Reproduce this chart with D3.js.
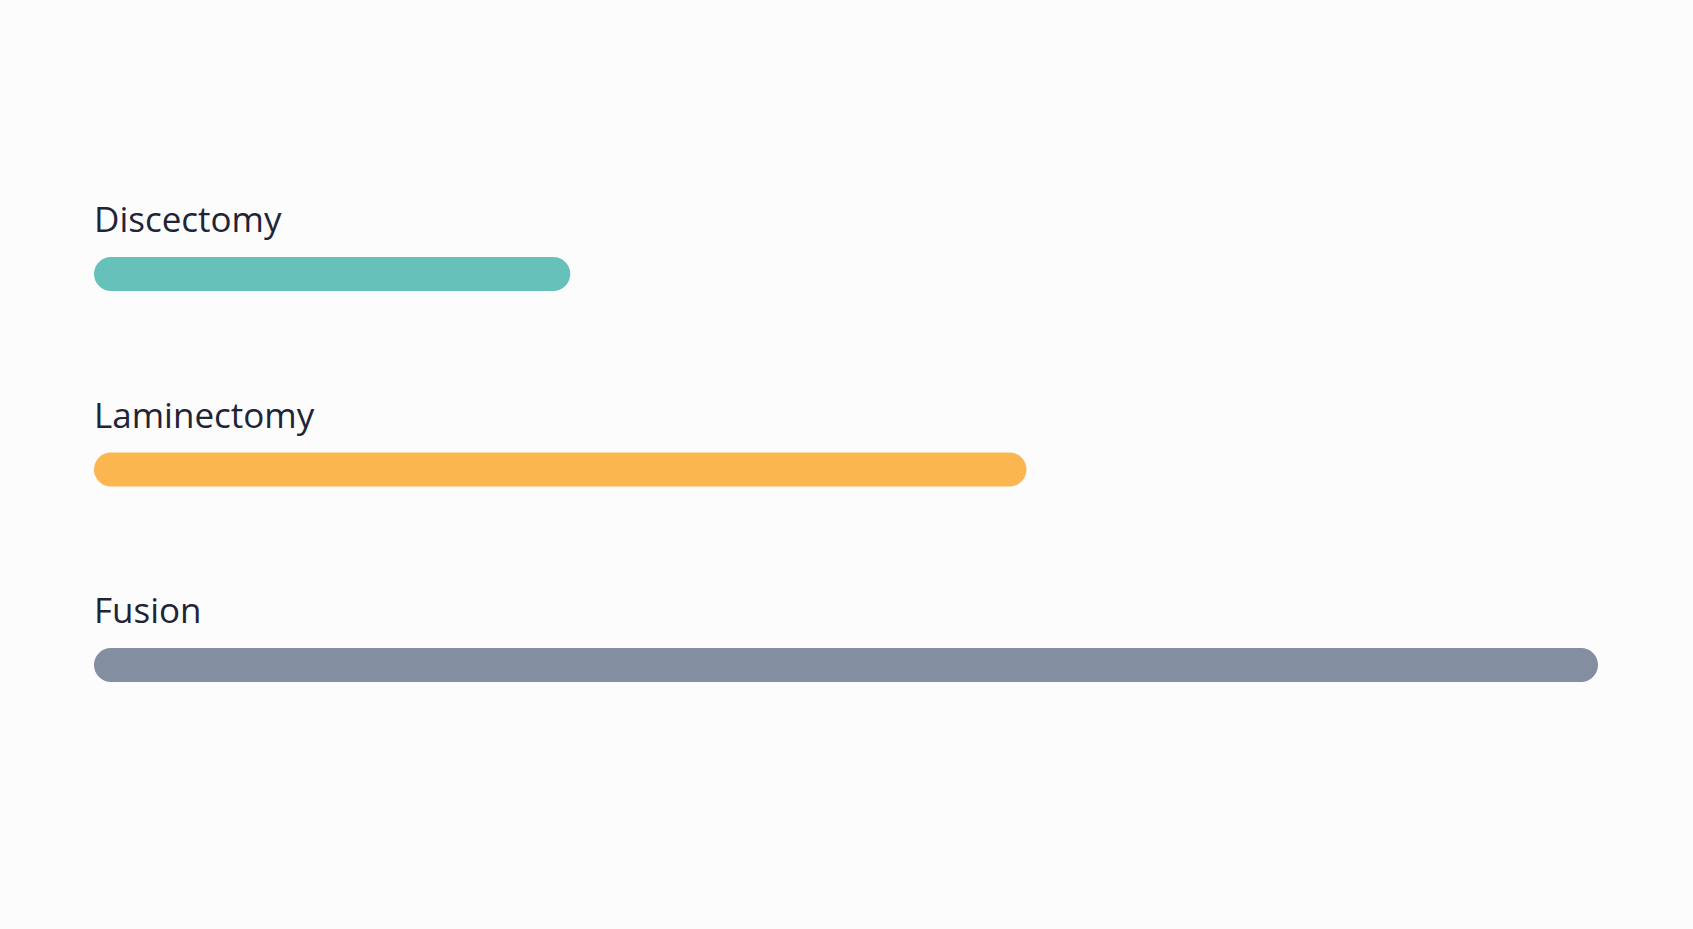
<!DOCTYPE html>
<html>
<head>
<meta charset="utf-8">
<script src="https://cdn.jsdelivr.net/npm/d3@7"></script>
<style>
    html, body { margin: 0; padding: 0; background: #fcfcfc; }
    svg { display: block; }
    .label { font-family: "Open Sans", sans-serif; font-size: 35px; fill: #1f2437; }
</style>
</head>
<body>
<svg id="chart"></svg>
<script>
// procedures and their values
var categories = ["Discectomy", "Laminectomy", "Fusion"];
var values = [1.9, 3.72, 6.0];
var colors = ["#67c1bb", "#fcb64f", "#838ea1"];

var w = 1693, h = 929;
var margin = { top: 176, right: 95, bottom: 150, left: 94 };

var svg = d3.select("#chart")
    .attr("width", w)
    .attr("height", h);

var x = d3.scaleLinear()
    .domain([0, d3.max(values)])
    .range([margin.left, w - margin.right]);

// each band holds label on top and bar below
var y = d3.scaleBand()
    .domain(categories)
    .range([margin.top, margin.top + 3 * 195.5])
    .paddingInner(0);

var bar_h = 34;

var rows = svg.selectAll("g.row")
    .data(categories)
    .enter()
    .append("g")
    .attr("class", "row")
    .attr("transform", function (d) { return "translate(0," + y(d) + ")"; });

rows.append("text")
    .attr("class", "label")
    .attr("x", margin.left)
    .attr("y", 56)
    .text(function (d) { return d; });

rows.append("rect")
    .attr("x", x(0))
    .attr("y", 81)
    .attr("height", bar_h)
    .attr("rx", 17)
    .attr("ry", 17)
    .attr("width", function (d, i) { return x(values[i]) - x(0); })
    .attr("fill", function (d, i) { return colors[i]; });
</script>
</body>
</html>
